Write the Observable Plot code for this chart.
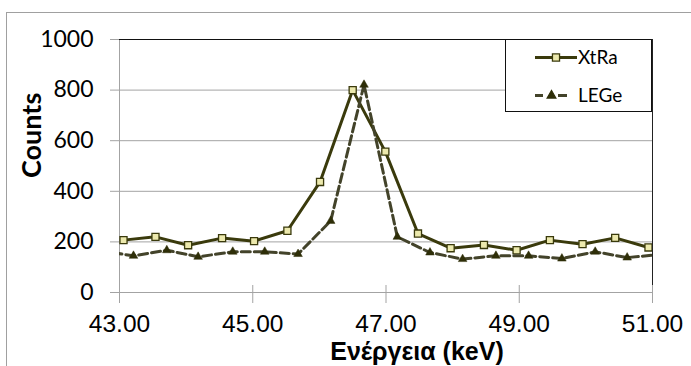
<!DOCTYPE html>
<html>
<head>
<meta charset="utf-8">
<script src="https://cdn.jsdelivr.net/npm/d3@7"></script>
<script src="https://cdn.jsdelivr.net/npm/@observablehq/plot@0.6"></script>
<style>
  html, body { margin: 0; padding: 0; background: #fff; }
  #chart { width: 691px; height: 366px; overflow: hidden; }
</style>
</head>
<body>
<div id="chart"></div>
<script>
// ---- data ----
const xtraEnergy = [43.06, 43.54, 44.03, 44.54, 45.02, 45.52, 46.01, 46.50, 46.99, 47.48, 47.97, 48.47, 48.96, 49.46, 49.95, 50.44, 50.94];
const xtraCounts = [207, 220, 187, 215, 203, 244, 437, 800, 557, 233, 175, 188, 167, 207, 191, 216, 178];
const legeEnergy = [42.71, 43.21, 43.71, 44.18, 44.70, 45.18, 45.68, 46.17, 46.67, 47.17, 47.66, 48.15, 48.65, 49.14, 49.64, 50.14, 50.62, 51.11];
const legeCounts = [165, 145, 167, 141, 161, 161, 152, 283, 821, 220, 158, 132, 145, 145, 134, 161, 138, 150];
const seriesNames = ["XtRa", "LEGe"];
const xTicks = [43, 45, 47, 49, 51];
const yTicks = [0, 200, 400, 600, 800, 1000];
const yGrid = [200, 400, 600, 800];
const xLabel = "Ενέργεια (keV)";
const yLabel = "Counts";

const xtra = xtraEnergy.map((e, i) => ({energy: e, counts: xtraCounts[i]}));
const lege = legeEnergy.map((e, i) => ({energy: e, counts: legeCounts[i]}));

const dark = "#3a3a0c";
const dashCol = "#43432a";
const sqFill = "#ece9ad";
const grey = "#a3a3a3";

const chart = Plot.plot({
  width: 691,
  height: 366,
  marginLeft: 119,
  marginRight: 39,
  marginTop: 39,
  marginBottom: 74,
  style: {fontFamily: "'Liberation Sans', Arial, sans-serif", background: "#fff", color: "#000", overflow: "visible"},
  x: {domain: [43, 51]},
  y: {domain: [0, 1000]},
  marks: [
    Plot.ruleY(yGrid, {stroke: grey, strokeWidth: 1}),
    Plot.ruleY([0], {stroke: grey, strokeWidth: 1}),
    Plot.ruleX([43], {stroke: grey, strokeWidth: 1}),
    Plot.ruleY([1000], {stroke: "#111", strokeWidth: 1}),
    Plot.ruleX([51], {stroke: "#222", strokeWidth: 1}),
    Plot.ruleX(xTicks, {y1: 0, y2: 0, insetTop: -7, insetBottom: -11, stroke: grey, strokeWidth: 1}),
    Plot.axisX({ticks: xTicks, tickSize: 0, tickPadding: 22, tickFormat: d3.format(".2f"), fontSize: 24.5, label: null}),
    Plot.axisY({ticks: yTicks, tickSize: 9, tickPadding: 17, stroke: grey, tickFormat: d3.format("d"), fontSize: 23, fontFamily: "Lato, 'Liberation Sans', sans-serif", label: null}),
    Plot.text([yLabel], {frameAnchor: "left", dx: -87, dy: 12, rotate: -90, fontSize: 27, fontWeight: "bold", fontFamily: "Lato, 'Liberation Sans', sans-serif", fill: "#000"}),
    Plot.text([xLabel], {frameAnchor: "bottom", dx: 31, dy: 50, lineAnchor: "top", fontSize: 25, fontWeight: "bold", fill: "#000"}),
    Plot.line(xtra, {x: "energy", y: "counts", stroke: dark, strokeWidth: 3, clip: true}),
    Plot.dot(xtra, {x: "energy", y: "counts", symbol: "square", r: 4, fill: sqFill, stroke: dark, strokeWidth: 1.3, clip: true}),
    Plot.line(lege, {x: "energy", y: "counts", stroke: dashCol, strokeWidth: 3, strokeDasharray: "9,4", clip: true}),
    Plot.dot(lege, {x: "energy", y: "counts", symbol: "triangle", r: 3.2, fill: "#2e2e08", stroke: "#2e2e08", strokeWidth: 0.5, clip: true})
  ]
});

const svg = d3.select(chart);
// outer chart frame
svg.insert("rect", ":first-child")
  .attr("x", 6.5).attr("y", 12.5).attr("width", 700).attr("height", 400)
  .attr("fill", "none").attr("stroke", "#a0a0a0").attr("stroke-width", 1);

// legend
const lg = svg.append("g").attr("text-anchor", "start");
lg.append("rect").attr("x", 505.5).attr("y", 39.5).attr("width", 146).attr("height", 72)
  .attr("fill", "#fff").attr("stroke", "#111").attr("stroke-width", 1);
const rows = [
  {name: seriesNames[0], y: 57.5, x2: 577, dash: null, stroke: dark, sym: d3.symbolSquare, size: Math.PI * 16, fill: sqFill, sstroke: dark, sx: 556},
  {name: seriesNames[1], y: 95.5, x2: 567, dash: "8,15,9", stroke: dashCol, sym: d3.symbolTriangle, size: Math.PI * 3.2 * 3.2, fill: "#2e2e08", sstroke: "#2e2e08", sx: 551.5}
];
rows.forEach(r => {
  lg.append("line").attr("x1", 535).attr("x2", r.x2).attr("y1", r.y).attr("y2", r.y)
    .attr("stroke", r.stroke).attr("stroke-width", 3).attr("stroke-dasharray", r.dash);
  lg.append("path").attr("d", d3.symbol(r.sym, r.size)()).attr("transform", `translate(${r.sx},${r.y})`)
    .attr("fill", r.fill).attr("stroke", r.sstroke).attr("stroke-width", 1.3);
  lg.append("text").attr("x", 578).attr("y", r.y + 6.5).text(r.name)
    .attr("text-anchor", "start")
    .attr("font-family", "Lato, 'Liberation Sans', sans-serif").attr("font-size", 19).attr("fill", "#000");
});

document.getElementById("chart").appendChild(chart);
</script>
</body>
</html>
